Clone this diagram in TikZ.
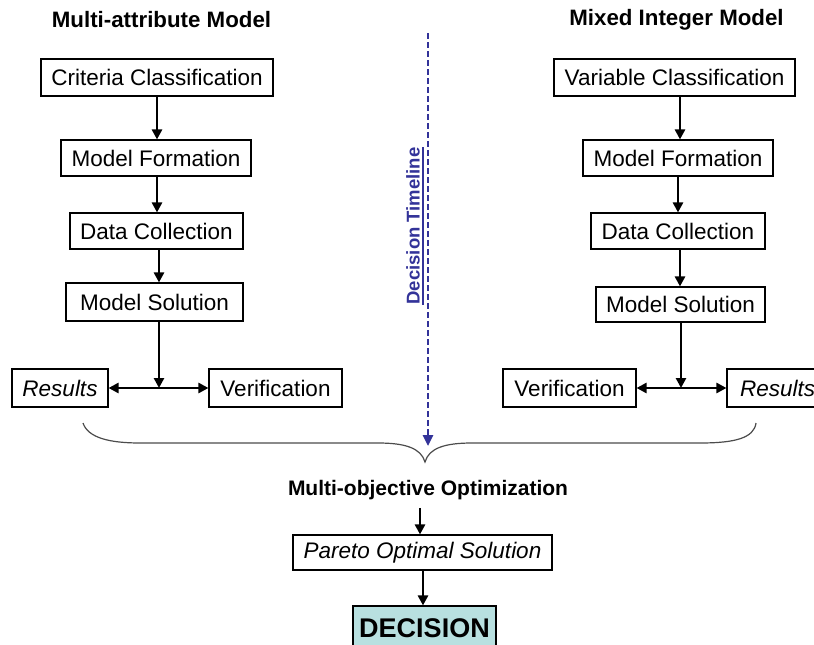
\documentclass[tikz,border=0pt]{standalone}
\usepackage{fontspec}
\setmainfont{Liberation Sans}
\usetikzlibrary{arrows.meta}
\definecolor{tlblue}{HTML}{333399}
\definecolor{decfill}{HTML}{B8E0E0}
\begin{document}
\begin{tikzpicture}[x=1pt,y=-1pt,
  box/.style={draw=black,line width=1.1pt,fill=white,inner sep=0pt,
    font=\fontsize{22.5}{26}\selectfont},
  ibox/.style={box,font=\fontsize{22.5}{26}\selectfont\itshape},
  ttl/.style={inner sep=0pt,font=\fontsize{22.3}{26}\selectfont\bfseries},
  tip/.tip={Triangle[length=10pt,width=10pt]},
  arr/.style={line width=2.8pt,-tip},
  darr/.style={line width=2.8pt,tip-tip},
  brace/.style={line width=1.2pt,draw=black!70}]
\useasboundingbox (0,0) rectangle (814,645);

% headings
\node[ttl] (tleft) at (161.5,20) {Multi-attribute Model};
\node[ttl] (tright) at (676.5,20) {Mixed Integer Model};

% multi-attribute column
\node[box,minimum width=232pt,minimum height=37pt] (lcc) at (157,77.5) {Criteria Classification};
\node[box,minimum width=190pt,minimum height=36pt] (lmf) at (156,158) {Model Formation};
\node[box,minimum width=173pt,minimum height=36pt] (ldc) at (156.5,231) {Data Collection};
\node[box,minimum width=177pt,minimum height=38pt] (lms) at (154.5,302) {Model Solution};
\node[ibox,minimum width=96pt,minimum height=38pt] (lres) at (60,388) {Results};
\node[box,minimum width=133pt,minimum height=38pt] (lver) at (275.5,388) {Verification};
\coordinate (jl) at (159,388);

\draw[arr] (lcc.south -| 157,0) -- (lmf.north -| 157,0);
\draw[arr] (lmf.south -| 157,0) -- (ldc.north -| 157,0);
\draw[arr] (ldc.south -| jl) -- (lms.north -| jl);
\draw[arr] (lms.south -| jl) -- (jl);
\draw[darr] (lres.east) -- (lver.west);

% mixed integer column
\node[box,minimum width=241pt,minimum height=37pt] (rvc) at (674.5,77.5) {Variable Classification};
\node[box,minimum width=190pt,minimum height=36pt] (rmf) at (678,158) {Model Formation};
\node[box,minimum width=174pt,minimum height=36pt] (rdc) at (678,231) {Data Collection};
\node[box,minimum width=169pt,minimum height=35pt] (rms) at (680.5,304.5) {Model Solution};
\node[box,minimum width=133pt,minimum height=38pt] (rver) at (569.5,388) {Verification};
\node[ibox,minimum width=96pt,minimum height=38pt,text width=90pt,align=left] (rres) at (775,388) {\hspace*{10pt}Results};
\coordinate (jr) at (681,388);

\draw[arr] (rvc.south -| 680,0) -- (rmf.north -| 680,0);
\draw[arr] (rmf.south -| 678,0) -- (rdc.north -| 678,0);
\draw[arr] (rdc.south -| 680,0) -- (rms.north -| 680,0);
\draw[arr] (rms.south -| jr) -- (jr);
\draw[darr] (rver.east) -- (rres.west);

% brace gathering both models
\draw[brace] (83,423) .. controls (88,438) and (110,443) .. (140,443)
  -- (378,443) .. controls (405,443) and (421,448) .. (425,462)
  .. controls (429,448) and (445,443) .. (472,443)
  -- (700,443) .. controls (735,443) and (754,438) .. (756,423);

% decision timeline
\coordinate (tltop) at (428,33);
\coordinate (tlend) at (428,446);
\draw[tlblue,line width=2.6pt,dash pattern=on 5.5pt off 3.5pt,
  -{Triangle[length=11pt,width=10pt]}] (tltop) -- (tlend);
\node[rotate=90,inner sep=0pt,text=tlblue,font=\fontsize{18.5}{22}\selectfont\bfseries]
  (tl) at (413,226) {Decision Timeline};
\draw[tlblue,line width=1.6pt] ([xshift=3pt]tl.south west) -- ([xshift=3pt]tl.south east);

% optimisation and decision
\node[ttl,font=\fontsize{21}{25}\selectfont\bfseries] (mo) at (428,490) {Multi-objective Optimization};
\node[ibox,minimum width=259pt,minimum height=35pt] (po) at (422.5,552.5) {Pareto Optimal Solution};
\node[box,fill=decfill,minimum width=143pt,minimum height=44pt,
  font=\fontsize{27}{30}\selectfont\bfseries] (dec) at (424.5,628) {DECISION};

\draw[arr] (mo.south -| 420,0) ++(0,8) -- (po.north -| 420,0);
\draw[arr] (po.south -| 423,0) -- (dec.north -| 423,0);
\end{tikzpicture}
\end{document}
